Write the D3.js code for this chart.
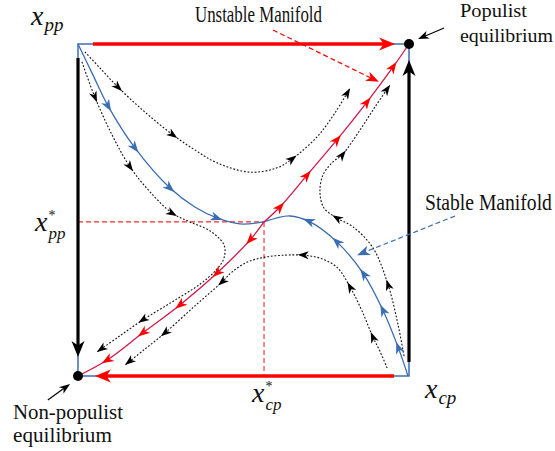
<!DOCTYPE html>
<html>
<head>
<meta charset="utf-8">
<title>Populist phase diagram</title>
<script src="https://d3js.org/d3.v7.min.js"></script>
<style>
  body { margin: 0; background: #fff; }
  svg text { fill: #111; }
</style>
</head>
<body>
<div id="vis"></div>
<script>
// state space: x_cp across, x_pp up, both in [0,1]
const saddle = [0.562, 0.464];

// unstable manifold, both branches leave the saddle
const unstableUp = [saddle, [0.610, 0.509], [0.692, 0.605], [0.782, 0.711], [0.873, 0.825], [0.952, 0.931], [1, 1]];
const unstableUpArrows = [[0.610, 0.509], [0.692, 0.605], [0.782, 0.711], [0.873, 0.825], [0.952, 0.931]];
const unstableDown = [saddle, [0.520, 0.410], [0.420, 0.310], [0.308, 0.214], [0.196, 0.130], [0.088, 0.048], [0, 0]];
const unstableDownArrows = [[0.520, 0.410], [0.420, 0.310], [0.308, 0.214], [0.196, 0.130], [0.088, 0.048]];

// stable manifold, both branches run into the saddle
const stableUpper = [[0, 1], [0.045, 0.907], [0.091, 0.813], [0.172, 0.687], [0.278, 0.566], [0.353, 0.509], [0.420, 0.476], [0.489, 0.458], saddle];
const stableUpperArrows = [[0.091, 0.813], [0.172, 0.687], [0.278, 0.566], [0.420, 0.476]];
const stableLower = [[0.997, 0], [0.967, 0.087], [0.921, 0.199], [0.861, 0.310], [0.782, 0.404], [0.701, 0.464], [0.640, 0.482], saddle];
const stableLowerArrows = [[0.973, 0.087], [0.921, 0.199], [0.864, 0.307], [0.782, 0.404], [0.695, 0.461]];

// other trajectories (dotted)
const trajTop = [[0.021, 0.976], [0.066, 0.928], [0.121, 0.870], [0.202, 0.795], [0.287, 0.726], [0.353, 0.681], [0.420, 0.642],
  [0.520, 0.614], [0.601, 0.627], [0.647, 0.654], [0.722, 0.720], [0.776, 0.792], [0.822, 0.867]];
const trajTopArrows = [[0.121, 0.870], [0.287, 0.726], [0.647, 0.654], [0.822, 0.867]];
const trajLeft = [[0.012, 0.946], [0.051, 0.840], [0.103, 0.726], [0.157, 0.630], [0.218, 0.554], [0.284, 0.491], [0.338, 0.464],
  [0.399, 0.437], [0.441, 0.395], [0.441, 0.355], [0.417, 0.319], [0.369, 0.277], [0.284, 0.223], [0.196, 0.169], [0.121, 0.117], [0.057, 0.072]];
const trajLeftArrows = [[0.051, 0.840], [0.157, 0.630], [0.284, 0.491], [0.196, 0.169], [0.057, 0.072]];
const trajBottom = [[0.934, 0.024], [0.912, 0.075], [0.891, 0.117], [0.858, 0.196], [0.822, 0.268], [0.782, 0.328], [0.731, 0.355],
  [0.680, 0.364], [0.625, 0.364], [0.565, 0.358], [0.511, 0.343], [0.465, 0.313], [0.435, 0.283], [0.353, 0.211], [0.263, 0.130],
  [0.202, 0.081], [0.142, 0.033]];
const trajBottomArrows = [[0.891, 0.117], [0.822, 0.268], [0.680, 0.364], [0.435, 0.283], [0.263, 0.130], [0.142, 0.033]];
const trajRight = [[0.985, 0.060], [0.967, 0.154], [0.937, 0.274], [0.891, 0.386], [0.831, 0.449], [0.782, 0.476], [0.743, 0.506],
  [0.731, 0.554], [0.740, 0.605], [0.770, 0.645], [0.798, 0.666], [0.852, 0.741], [0.897, 0.810], [0.943, 0.877]];
const trajRightArrows = [[0.937, 0.274], [0.782, 0.476], [0.798, 0.666], [0.943, 0.877]];

// boundary flows [from, to]
const edgeTop = [[0.045, 1], [0.958, 1]];
const edgeBottom = [[0.955, 0], [0.051, 0]];
const edgeLeft = [[0, 0.958], [0, 0.057]];
const edgeRight = [[1, 0.042], [1, 0.952]];

// equilibria
const equilibria = [[0, 0], [1, 1]];

// annotation pointers [from, tip]
const pointerUnstable = [[0.589, 1.042], [0.909, 0.886]];
const pointerStable = [[1.139, 0.482], [0.843, 0.364]];
const pointerPopulist = [[1.106, 1.048], [1.027, 1.015]];
const pointerNonPop = [[-0.091, -0.072], [-0.024, -0.024]];

const W = 555, H = 451;
const x = d3.scaleLinear().domain([0, 1]).range([78, 409]);
const y = d3.scaleLinear().domain([0, 1]).range([376, 44]);

const blue = "#3b6db3", red = "#ff0000", crimson = "#d2184a";
const serif = "Liberation Serif, Times New Roman, Times, DejaVu Serif, Noto Serif, serif";

const svg = d3.select("#vis").append("svg")
  .attr("width", W).attr("height", H)
  .attr("viewBox", [0, 0, W, H])
  .style("font-family", serif);
const g = svg.append("g");

const line = d3.line().x(d => x(d[0])).y(d => y(d[1])).curve(d3.curveCatmullRom.alpha(0.5));
const straight = d3.line().x(d => x(d[0])).y(d => y(d[1]));

function stealth(px, py, ang, len, wid, color) {
  g.append("path")
    .attr("d", `M0,0 L${-len},${-wid / 2} L${-len * 0.72},0 L${-len},${wid / 2} Z`)
    .attr("transform", `translate(${px},${py}) rotate(${ang * 180 / Math.PI})`)
    .attr("fill", color);
}

// put arrowheads on a drawn path, near the given data points
function arrowsOn(sel, marks, color, len, wid) {
  const node = sel.node();
  const total = node.getTotalLength();
  const samples = d3.range(0, total, 0.5).map(l => {
    const p = node.getPointAtLength(l);
    return { l, x: p.x, y: p.y };
  });
  marks.forEach(m => {
    const mx = x(m[0]), my = y(m[1]);
    const best = d3.least(samples, s => (s.x - mx) ** 2 + (s.y - my) ** 2);
    const tipL = Math.min(best.l + len / 2, total);
    const a = node.getPointAtLength(Math.max(tipL - 2, 0));
    const b = node.getPointAtLength(tipL);
    stealth(b.x, b.y, Math.atan2(b.y - a.y, b.x - a.x), len, wid, color);
  });
}

// thin blue frame under the thick edges
g.append("rect")
  .attr("x", x(0)).attr("y", y(1))
  .attr("width", x(1) - x(0)).attr("height", y(0) - y(1))
  .attr("fill", "none").attr("stroke", blue).attr("stroke-width", 1.5);

// dashed guides to the saddle
g.append("path")
  .attr("d", straight([[0, saddle[1]], saddle]))
  .attr("stroke", "#ff2a2a").attr("stroke-width", 1.2)
  .attr("stroke-dasharray", "5,3").attr("fill", "none");
g.append("path")
  .attr("d", straight([saddle, [saddle[0], 0]]))
  .attr("stroke", "#f58080").attr("stroke-width", 1.8)
  .attr("stroke-dasharray", "5,3").attr("fill", "none");

// dotted trajectories
[[trajTop, trajTopArrows], [trajLeft, trajLeftArrows], [trajBottom, trajBottomArrows], [trajRight, trajRightArrows]]
  .forEach(([pts, arr]) => {
    const p = g.append("path")
      .attr("d", line(pts))
      .attr("fill", "none").attr("stroke", "#111")
      .attr("stroke-width", 1.1).attr("stroke-dasharray", "1.8,1.8");
    arrowsOn(p, arr, "#000", 11, 8);
  });

// stable manifold
[[stableUpper, stableUpperArrows], [stableLower, stableLowerArrows]].forEach(([pts, arr]) => {
  const p = g.append("path")
    .attr("d", line(pts))
    .attr("fill", "none").attr("stroke", blue).attr("stroke-width", 1.3);
  arrowsOn(p, arr, blue, 12, 9);
});

// unstable manifold
[[unstableUp, unstableUpArrows], [unstableDown, unstableDownArrows]].forEach(([pts, arr]) => {
  const p = g.append("path")
    .attr("d", line(pts))
    .attr("fill", "none").attr("stroke", crimson).attr("stroke-width", 1.3);
  arrowsOn(p, arr, red, 12, 9);
});

// boundary flows: thick lines with big arrowheads
function edge(seg, color, width) {
  const x0 = x(seg[0][0]), y0 = y(seg[0][1]), x1 = x(seg[1][0]), y1 = y(seg[1][1]);
  const ang = Math.atan2(y1 - y0, x1 - x0);
  g.append("line")
    .attr("x1", x0).attr("y1", y0)
    .attr("x2", x1 - 9 * Math.cos(ang)).attr("y2", y1 - 9 * Math.sin(ang))
    .attr("stroke", color).attr("stroke-width", width);
  stealth(x1, y1, ang, 16, 13, color);
}
edge(edgeTop, red, 3.6);
edge(edgeBottom, red, 3.6);
edge(edgeLeft, "#000", 3.2);
edge(edgeRight, "#000", 3.2);

// equilibria
g.selectAll("circle.eq")
  .data(equilibria)
  .join("circle")
  .attr("class", "eq")
  .attr("cx", d => x(d[0])).attr("cy", d => y(d[1]))
  .attr("r", 5).attr("fill", "#000");

// annotation pointers
function pointer(seg, color, dash, len, wid) {
  const x0 = x(seg[0][0]), y0 = y(seg[0][1]), x1 = x(seg[1][0]), y1 = y(seg[1][1]);
  const ang = Math.atan2(y1 - y0, x1 - x0);
  g.append("line")
    .attr("x1", x0).attr("y1", y0)
    .attr("x2", x1 - len * 0.6 * Math.cos(ang)).attr("y2", y1 - len * 0.6 * Math.sin(ang))
    .attr("stroke", color).attr("stroke-width", 1.2)
    .attr("stroke-dasharray", dash);
  stealth(x1, y1, ang, len, wid, color);
}
pointer(pointerUnstable, red, "5,3", 13, 10);
pointer(pointerStable, blue, "5,3", 13, 10);
pointer(pointerPopulist, "#000", null, 11, 8);
pointer(pointerNonPop, "#000", null, 11, 8);

// plain labels, squeezed sideways to the width they take in the original
function label(tx, ty, s, size, width) {
  const t = g.append("text")
    .style("font-family", serif)
    .attr("font-size", size)
    .text(s);
  const sx = width / t.node().getComputedTextLength();
  t.attr("transform", `translate(${tx},${ty}) scale(${sx},1)`);
}
label(195, 22, "Unstable Manifold", 24, 127);
label(425, 210, "Stable Manifold", 24, 127);
label(460, 17, "Populist", 19.5, 67);
label(460, 42, "equilibrium", 19.5, 93);
label(13, 419, "Non-populist", 21, 110);
label(13, 442, "equilibrium", 21, 99);

// math labels: x with subscript and optional star, one text element each
function mathLabel(tx, ty, sub, star) {
  const t = g.append("text")
    .attr("x", tx).attr("y", ty)
    .style("font-family", serif)
    .attr("font-style", "italic");
  t.append("tspan").attr("font-size", 28).text("x");
  if (star) {
    t.append("tspan").attr("font-size", 14).attr("font-style", "normal")
      .attr("dx", 1).attr("dy", -11).text("*");
    t.append("tspan").attr("font-size", 17)
      .attr("dx", -7).attr("dy", 19).text(sub);
  } else {
    t.append("tspan").attr("font-size", 19)
      .attr("dx", 1).attr("dy", 6).text(sub);
  }
}
mathLabel(x(0) - 47, y(1) - 19, "pp", false);
mathLabel(x(0) - 43, y(saddle[1]) + 9, "pp", true);
mathLabel(x(saddle[0]) - 12, y(0) + 26, "cp", true);
mathLabel(x(1) + 16, y(0) + 22, "cp", false);
</script>
</body>
</html>
